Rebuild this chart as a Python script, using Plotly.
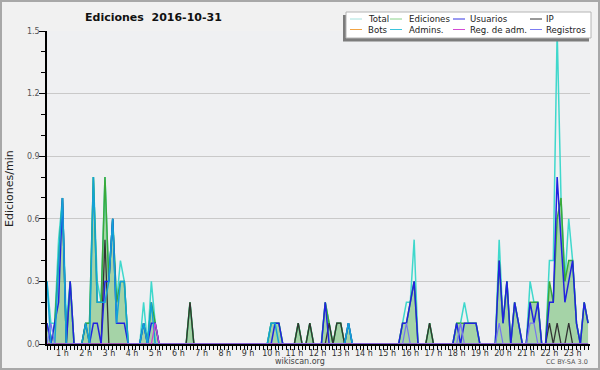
import plotly.graph_objects as go

# ---------------- data (10-minute bins, edits per minute) ----------------
minutes = list(range(20, 1430, 10))          # 0:20 ... 23:40
hour_ticks = list(range(60, 1440, 60))
hour_labels = ["%d h" % h for h in range(1, 24)]

Z = [0, 0, 0, 0, 0, 0]

total_rows = [
    [0.3, 0.1, 0.1, 0.5],
    [0.7, 0.1, 0.3, 0, 0, 0],
    [0.1, 0.1, 0.8, 0.3, 0.2, 0.8],
    [0.3, 0.6, 0.2, 0.4, 0.3, 0],
    [0, 0, 0, 0.2, 0, 0.3],
    [0.1, 0, 0, 0, 0, 0],
    [0, 0, 0, 0.2, 0, 0],
    Z, Z, Z,
    [0.1, 0.1, 0.1, 0, 0, 0],
    [0, 0.1, 0, 0, 0.1, 0],
    [0, 0, 0.2, 0.1, 0, 0.1],
    [0.1, 0, 0.1, 0, 0, 0],
    Z,
    [0, 0, 0, 0, 0.1, 0.2],
    [0.2, 0.5, 0, 0, 0, 0.1],
    Z,
    [0.1, 0.1, 0.2, 0.1, 0.1, 0.1],
    [0, 0, 0, 0, 0, 0.5],
    [0.1, 0.3, 0, 0.2, 0.1, 0],
    [0, 0.3, 0.2, 0.2, 0, 0],
    [0.4, 0.4, 1.5, 0.7, 0.3, 0.6],
    [0.4, 0.1, 0, 0.2, 0.1],
]

ediciones_rows = [
    [0.1, 0, 0.1, 0.4],
    [0.7, 0, 0.3, 0, 0, 0],
    [0.1, 0.1, 0.8, 0.2, 0.2, 0.8],
    [0.3, 0.6, 0.2, 0.3, 0.3, 0],
    [0, 0, 0, 0.1, 0, 0.2],
    [0.1, 0, 0, 0, 0, 0],
    [0, 0, 0, 0.2, 0, 0],
    Z, Z, Z,
    [0.1, 0.1, 0.1, 0, 0, 0],
    [0, 0.1, 0, 0, 0.1, 0],
    [0, 0, 0.2, 0.1, 0, 0.1],
    [0.1, 0, 0.1, 0, 0, 0],
    Z,
    [0, 0, 0, 0, 0.1, 0.1],
    [0.2, 0.3, 0, 0, 0, 0.1],
    Z,
    [0.1, 0.1, 0.1, 0.1, 0.1, 0.1],
    [0, 0, 0, 0, 0, 0.4],
    [0.1, 0.3, 0, 0.2, 0.1, 0],
    [0, 0.2, 0.2, 0.2, 0, 0],
    [0.3, 0.2, 0.6, 0.7, 0.3, 0.4],
    [0.4, 0.1, 0, 0.2, 0.1],
]

usuarios_rows = [
    [0.1, 0, 0.1, 0.2],
    [0.7, 0, 0.3, 0, 0, 0],
    [0, 0, 0.1, 0.1, 0, 0.3],
    [0.3, 0.6, 0.1, 0.1, 0.1, 0],
    [0, 0, 0, 0.1, 0, 0.1],
    [0.1, 0, 0, 0, 0, 0],
    Z, Z, Z, Z,
    [0, 0.1, 0.1, 0, 0, 0],
    Z,
    [0, 0, 0.2, 0, 0, 0],
    [0, 0, 0.1, 0, 0, 0],
    Z,
    [0, 0, 0, 0, 0.1, 0.1],
    [0.2, 0.3, 0, 0, 0, 0],
    Z,
    [0.1, 0, 0.1, 0.1, 0.1, 0.1],
    [0, 0, 0, 0, 0, 0.4],
    [0.1, 0.3, 0, 0.2, 0.1, 0],
    [0, 0.2, 0.1, 0.2, 0, 0],
    [0.2, 0.2, 0.8, 0.5, 0.2, 0.3],
    [0.4, 0.1, 0, 0.2, 0.1],
]

ip_rows = [
    [0, 0, 0, 0],
    Z,
    [0.1, 0, 0, 0, 0, 0.5],
    Z, Z, Z,
    [0, 0, 0, 0.2, 0, 0],
    Z, Z, Z, Z,
    [0, 0.1, 0, 0, 0.1, 0],
    [0, 0, 0, 0.1, 0, 0.1],
    [0.1, 0, 0, 0, 0, 0],
    Z, Z,
    [0, 0, 0, 0, 0, 0.1],
    Z, Z, Z, Z, Z,
    [0.1, 0, 0.1, 0, 0, 0.1],
    [0, 0, 0, 0, 0],
]

admins_rows = [
    [0.3, 0, 0, 0.4],
    [0.7, 0, 0, 0, 0, 0],
    [0.1, 0, 0.8, 0.2, 0.2, 0.2],
    [0.3, 0.6, 0.1, 0.3, 0.3, 0],
    [0, 0, 0, 0.1, 0, 0.2],
    Z, Z, Z, Z, Z,
    [0.1, 0.1, 0, 0, 0, 0],
    Z, Z,
    [0, 0, 0.1, 0, 0, 0],
    Z, Z, Z, Z, Z, Z, Z, Z, Z,
    [0, 0, 0, 0, 0],
]

registros_rows = [
    [0, 0.1, 0, 0],
    Z, Z, Z, Z, Z, Z, Z, Z, Z, Z, Z, Z, Z, Z,
    [0, 0, 0, 0, 0, 0.1],
    Z, Z,
    [0, 0.1, 0, 0, 0, 0],
    [0, 0, 0, 0, 0, 0.1],
    Z,
    [0, 0.1, 0.1, 0, 0, 0],
    Z,
    [0, 0, 0, 0, 0],
]

regadm_rows = [
    [0, 0, 0, 0],
    Z, Z, Z, Z,
    [0.1, 0, 0, 0, 0, 0],
    Z, Z, Z, Z, Z, Z, Z, Z, Z, Z, Z, Z, Z, Z, Z, Z, Z,
    [0, 0, 0, 0, 0],
]

bots_rows = [[0, 0, 0, 0]] + [Z] * 22 + [[0, 0, 0, 0, 0]]


def flat(rows):
    return [v for r in rows for v in r]


total = flat(total_rows)
ediciones = flat(ediciones_rows)
usuarios = flat(usuarios_rows)
ip = flat(ip_rows)
admins = flat(admins_rows)
registros = flat(registros_rows)
regadm = flat(regadm_rows)
bots = flat(bots_rows)

legend_names = ["Total", "Ediciones", "Usuarios", "IP",
                "Bots", "Admins.", "Reg. de adm.", "Registros"]

# ---------------- figure ----------------
FONT = "DejaVu Sans"
L, R, T, B = 47, 590, 31, 344


def px(x):
    return (x - L) / (R - L)


def py(y):
    return (B - y) / (B - T)


fig = go.Figure()

# green area under "Ediciones"
fig.add_trace(go.Scatter(x=minutes, y=ediciones, mode="lines", line=dict(width=0),
                         fill="tozeroy", fillcolor="rgba(112,190,112,0.58)",
                         showlegend=False, hoverinfo="skip"))

line_specs = [
    (total, "Total", "#3fd8cc", 1.5),
    (ediciones, "Ediciones", "#3aaa3a", 1.5),
    (bots, "Bots", "#f0a040", 1.2),
    (ip, "IP", "#333333", 1.3),
    (usuarios, "Usuarios", "#2222e0", 1.5),
    (admins, "Admins.", "#12a2d8", 1.5),
    (registros, "Registros", "#7676f0", 1.2),
    (regadm, "Reg. de adm.", "#d040d0", 1.2),
]
for ys, name, col, w in line_specs:
    fig.add_trace(go.Scatter(x=minutes, y=ys, mode="lines", name=name,
                             line=dict(color=col, width=w), showlegend=False))

shapes = []
annotations = []

# outer border
shapes.append(dict(type="rect", xref="paper", yref="paper",
                   x0=px(1), x1=px(599), y0=py(369), y1=py(1),
                   line=dict(color="#a8a8a8", width=2), fillcolor="rgba(0,0,0,0)",
                   layer="above"))

# legend box with shadow
shapes.append(dict(type="rect", xref="paper", yref="paper",
                   x0=px(343), x1=px(589), y0=py(41.5), y1=py(15),
                   line=dict(width=0), fillcolor="#7c7c7c", layer="above"))
shapes.append(dict(type="rect", xref="paper", yref="paper",
                   x0=px(346), x1=px(591), y0=py(38), y1=py(12),
                   line=dict(color="#b4b4b4", width=1), fillcolor="#ffffff", layer="above"))

legend_colors = ["#a6e2de", "#8ad28a", "#3535e4", "#333333",
                 "#f2a444", "#3ac4dc", "#d44ad4", "#7c7cf2"]
col_line_x = [350, 390, 453, 530]
col_text_x = [366, 407, 468, 544]
row_y = [19, 29.5]
for i, name in enumerate(legend_names):
    c, r = i % 4, i // 4
    yy = row_y[r]
    shapes.append(dict(type="line", xref="paper", yref="paper",
                       x0=px(col_line_x[c]), x1=px(col_line_x[c] + 12),
                       y0=py(yy), y1=py(yy),
                       line=dict(color=legend_colors[i], width=1), layer="above"))
    annotations.append(dict(xref="paper", yref="paper", x=px(col_text_x[c]), y=py(yy),
                            text=name, showarrow=False, xanchor="left", yanchor="middle",
                            font=dict(family=FONT, size=8.6, color="#222222")))

# title, axis title, footer texts
annotations.append(dict(xref="paper", yref="paper", x=px(153), y=py(17),
                        text="<b>Ediciones&nbsp; 2016-10-31</b>", showarrow=False,
                        xanchor="center", yanchor="middle",
                        font=dict(family=FONT, size=11, color="#111111")))
annotations.append(dict(xref="paper", yref="paper", x=px(9), y=py(189),
                        text="Ediciones/min", showarrow=False, textangle=-90,
                        xanchor="center", yanchor="middle",
                        font=dict(family=FONT, size=11, color="#222222")))
annotations.append(dict(xref="paper", yref="paper", x=px(300), y=py(361.5),
                        text="wikiscan.org", showarrow=False,
                        xanchor="center", yanchor="middle",
                        font=dict(family=FONT, size=8, color="#444444")))
annotations.append(dict(xref="paper", yref="paper", x=px(590), y=py(362),
                        text="CC BY-SA 3.0", showarrow=False,
                        xanchor="right", yanchor="middle",
                        font=dict(family=FONT, size=6.5, color="#555555")))

fig.update_layout(
    width=600, height=370,
    margin=dict(l=L, r=600 - R, t=T, b=370 - B, autoexpand=False),
    paper_bgcolor="#f1f1f1", plot_bgcolor="#eff0f2",
    showlegend=False,
    shapes=shapes, annotations=annotations,
    xaxis=dict(range=[20, 1425], showgrid=False, zeroline=False,
               showline=True, linecolor="#000000", linewidth=1.8,
               ticks="outside", ticklen=4, tickcolor="#000000", tickwidth=1,
               tickvals=hour_ticks, ticktext=hour_labels,
               tickfont=dict(family=FONT, size=8, color="#333333"),
               ticklabelstandoff=-4,
               minor=dict(dtick=10, tick0=0, ticks="outside", ticklen=4,
                          tickcolor="#000000", tickwidth=1, showgrid=False),
               fixedrange=True),
    yaxis=dict(range=[0, 1.5], zeroline=False,
               showline=True, linecolor="#000000", linewidth=1.5,
               showgrid=True, gridcolor="#c9c9c9", gridwidth=1,
               tickvals=[0, 0.3, 0.6, 0.9, 1.2, 1.5],
               ticktext=["0.0", "0.3", "0.6", "0.9", "1.2", "1.5"],
               ticks="outside", ticklen=6, tickcolor="#000000", tickwidth=1,
               tickfont=dict(family=FONT, size=8, color="#555555"),
               ticklabelstandoff=-2,
               minor=dict(dtick=0.1, tick0=0, ticks="outside", ticklen=4,
                          tickcolor="#000000", tickwidth=1, showgrid=False),
               fixedrange=True),
)

fig.write_html("out.html", config={"displayModeBar": False},
               post_script="document.body.style.margin='0';document.body.style.padding='0';")
